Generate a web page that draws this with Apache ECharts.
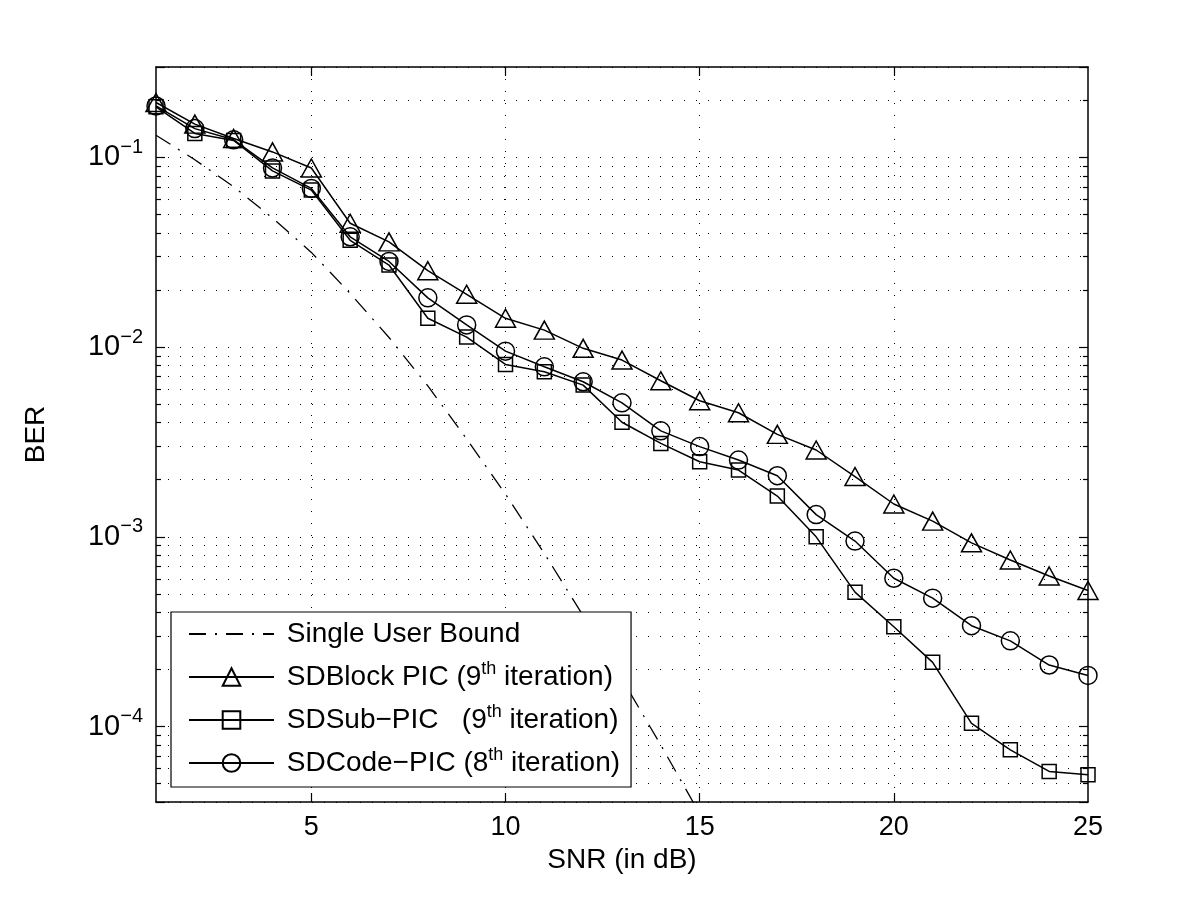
<!DOCTYPE html>
<html><head><meta charset="utf-8">
<script src="https://cdn.jsdelivr.net/npm/echarts@6/dist/echarts.min.js"></script>
<style>html,body{margin:0;padding:0;background:#fff}#c{width:1200px;height:902px}</style>
</head><body><div id="c"></div>
<script>
// ---- data ----
const snr = [1,2,3,4,5,6,7,8,9,10,11,12,13,14,15,16,17,18,19,20,21,22,23,24,25];
const snrBound = [1,2,3,4,5,6,7,8,9,10,11,12,13,14,15];
const singleUser = [0.131,0.0973,0.0701,0.048,0.0316,0.0192,0.01125,0.00625,0.00328,0.00168,0.000817,0.000384,0.000178,0.0000798,0.0000347];
const sdBlock = [0.195,0.150,0.126,0.107,0.088,0.045,0.0359,0.0253,0.0190,0.0142,0.0123,0.00986,0.00855,0.00665,0.00522,0.00451,0.00347,0.00287,0.00208,0.00149,0.00121,0.00093,0.000755,0.000622,0.000521];
const sdSub = [0.185,0.134,0.123,0.085,0.0673,0.0366,0.0271,0.0142,0.0113,0.00811,0.00742,0.00631,0.00402,0.00311,0.00249,0.00225,0.00164,0.00100,0.000511,0.000336,0.000218,0.000104,0.0000754,0.0000580,0.0000557];
const sdCode = [0.187,0.142,0.124,0.0881,0.0687,0.0382,0.0283,0.0182,0.0131,0.00953,0.00788,0.00657,0.00509,0.00362,0.00299,0.00254,0.00210,0.00131,0.00095,0.000605,0.000475,0.00034,0.000283,0.000211,0.000186];
const xLabels = [5,10,15,20,25];
const xTicks = [5,10,15,20];
const yMin = 4e-5, yMax = 0.3;
const minorMantissas = [2,3,4,5,6,7,8,9];
const decades = [-5,-4,-3,-2,-1];
const seriesNames = ['Single User Bound','SDBlock PIC (9th iteration)','SDSub-PIC   (9th iteration)','SDCode-PIC (8th iteration)'];
const legendTexts = {
  'Single User Bound': '{a| Single User Bound}',
  'SDBlock PIC (9th iteration)': '{a| SDBlock PIC (9}{s|th}{a| iteration)}',
  'SDSub-PIC   (9th iteration)': '{a| SDSub\u2212PIC   (9}{s|th}{a| iteration)}',
  'SDCode-PIC (8th iteration)': '{a| SDCode\u2212PIC (8}{s|th}{a| iteration)}'
};

// ---- build ----
const FONT = 'Liberation Sans, Arial, Helvetica, sans-serif';
const pairs = (xs, ys) => ys.map((v, i) => [xs[i], v]);
const minorVals = [];
decades.forEach(e => minorMantissas.forEach(m => {
  const v = m * Math.pow(10, e);
  if (v > yMin * 1.0001 && v < yMax * 0.9999) minorVals.push(Math.log10(v));
}));
const lMin = Math.log10(yMin), lMax = Math.log10(yMax);
const dotted = {show: true, lineStyle: {color: '#000', width: 1, type: [1, 11]}};
const axLine = {show: true, onZero: false, lineStyle: {color: '#000', width: 1.5}};
const tickStyle = {color: '#000', width: 1.2};

const chart = echarts.init(document.getElementById('c'), null, {renderer: 'canvas'});
chart.setOption({
  animation: false,
  backgroundColor: '#fff',
  grid: {left: 156, right: 112, top: 67, bottom: 100, containLabel: false},
  xAxis: [
    {type: 'value', min: 1, max: 25, position: 'bottom',
     axisLine: axLine,
     axisTick: {show: true, inside: true, length: 9, customValues: xTicks, lineStyle: tickStyle},
     axisLabel: {customValues: xLabels, fontSize: 27, color: '#000', fontFamily: FONT, margin: 12},
     splitLine: dotted,
     name: 'SNR (in dB)', nameLocation: 'middle', nameGap: 42,
     nameTextStyle: {fontSize: 28, color: '#000', fontFamily: FONT}},
    {type: 'value', min: 1, max: 25, position: 'top',
     axisLine: axLine,
     axisTick: {show: true, inside: true, length: 9, customValues: xTicks, lineStyle: tickStyle},
     axisLabel: {show: false}, splitLine: {show: false}}
  ],
  yAxis: [
    {type: 'log', logBase: 10, min: yMin, max: yMax, position: 'left',
     axisLine: axLine,
     axisTick: {show: true, inside: true, length: 9, lineStyle: tickStyle},
     axisLabel: {
       margin: 13, color: '#000', fontFamily: FONT,
       formatter: function (v) {
         const l = Math.log10(v), r = Math.round(l);
         if (Math.abs(l - r) > 1e-6) return '';
         return '{b|10}{s|\u2212' + (-r) + '}';
       },
       rich: {
         b: {fontSize: 29, lineHeight: 40, fontFamily: FONT, color: '#000'},
         s: {fontSize: 20, lineHeight: 20, fontFamily: FONT, color: '#000', verticalAlign: 'top'}
       }
     },
     splitLine: dotted,
     name: 'BER', nameLocation: 'middle', nameGap: 106, nameRotate: 90,
     nameTextStyle: {fontSize: 28, color: '#000', fontFamily: FONT}},
    {type: 'log', logBase: 10, min: yMin, max: yMax, position: 'right',
     axisLine: axLine,
     axisTick: {show: true, inside: true, length: 9, lineStyle: tickStyle},
     axisLabel: {show: false}, splitLine: {show: false}},
    {type: 'value', min: lMin, max: lMax, position: 'left',
     axisLine: {show: false},
     axisTick: {show: true, inside: true, length: 5, customValues: minorVals, lineStyle: tickStyle},
     axisLabel: {show: false}, splitLine: dotted},
    {type: 'value', min: lMin, max: lMax, position: 'right',
     axisLine: {show: false},
     axisTick: {show: true, inside: true, length: 5, customValues: minorVals, lineStyle: tickStyle},
     axisLabel: {show: false}, splitLine: {show: false}}
  ],
  legend: {
    orient: 'vertical', left: 171, top: 612, align: 'left',
    itemWidth: 85, itemHeight: 22, itemGap: 12,
    padding: [8, 11, 10, 17],
    backgroundColor: '#fff', borderColor: '#000', borderWidth: 1.2, borderRadius: 0,
    data: seriesNames,
    formatter: name => legendTexts[name],
    textStyle: {
      fontSize: 28, color: '#000', fontFamily: FONT,
      rich: {
        a: {fontSize: 28, lineHeight: 34, fontFamily: FONT, color: '#000'},
        s: {fontSize: 18, lineHeight: 16, fontFamily: FONT, color: '#000', verticalAlign: 'top'}
      }
    }
  },
  series: [
    {name: seriesNames[0], type: 'line', xAxisIndex: 0, yAxisIndex: 0,
     data: pairs(snrBound, singleUser), symbol: 'none', silent: true,
     lineStyle: {color: '#000', width: 1.3, type: [17, 9, 2, 9]},
     itemStyle: {color: 'transparent', borderColor: 'transparent', borderWidth: 0}},
    {name: seriesNames[1], type: 'line', xAxisIndex: 0, yAxisIndex: 0,
     data: pairs(snr, sdBlock), symbol: 'triangle', symbolSize: [20, 18], showAllSymbol: true, silent: true,
     lineStyle: {color: '#000', width: 1.5},
     itemStyle: {color: 'transparent', borderColor: '#000', borderWidth: 1.5}},
    {name: seriesNames[2], type: 'line', xAxisIndex: 0, yAxisIndex: 0,
     data: pairs(snr, sdSub), symbol: 'rect', symbolSize: 14, showAllSymbol: true, silent: true,
     lineStyle: {color: '#000', width: 1.5},
     itemStyle: {color: 'transparent', borderColor: '#000', borderWidth: 1.5}},
    {name: seriesNames[3], type: 'line', xAxisIndex: 0, yAxisIndex: 0,
     data: pairs(snr, sdCode), symbol: 'circle', symbolSize: 18, showAllSymbol: true, silent: true,
     lineStyle: {color: '#000', width: 1.5},
     itemStyle: {color: 'transparent', borderColor: '#000', borderWidth: 1.5}}
  ]
});
</script>
</body></html>
